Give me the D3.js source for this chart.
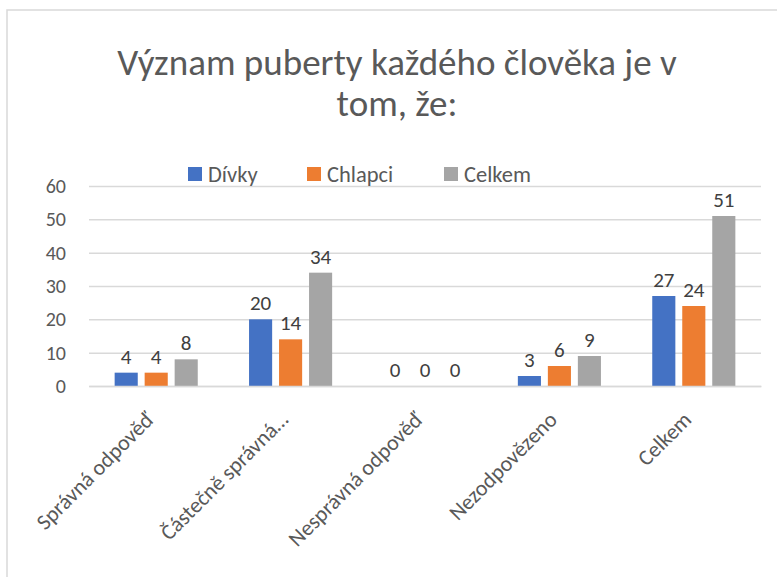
<!DOCTYPE html>
<html><head><meta charset="utf-8">
<script src="https://cdn.jsdelivr.net/npm/d3@7"></script>
<style>body{margin:0;background:#fff}svg{display:block}text{font-family:Carlito,Lato,"Liberation Sans",sans-serif}</style>
</head><body>
<svg id="c" width="777" height="577"></svg>
<script>
const categories = ["Správná odpověď", "Částečně správná…", "Nesprávná odpověď", "Nezodpovězeno", "Celkem"];
const seriesNames = ["Dívky", "Chlapci", "Celkem"];
const divky = [4, 20, 0, 3, 27];
const chlapci = [4, 14, 0, 6, 24];
const celkem = [8, 34, 0, 9, 51];
const yTicks = [0, 10, 20, 30, 40, 50, 60];
const titleLines = ["Význam puberty každého člověka je v", "tom, že:"];
const colors = ["#4472C4", "#ED7D31", "#A5A5A5"];

const series = [divky, chlapci, celkem];
const svg = d3.select("#c");
svg.append("rect").attr("x",7).attr("y",10).attr("width",800).attr("height",600)
  .attr("fill","none").attr("stroke","#d9d9d9").attr("stroke-width",1.5);

const L=89,R=761,T=186,B=386;
const x = d3.scaleBand().domain(categories).range([L,R]);
const xi = d3.scaleBand().domain(seriesNames).range([0,90]).paddingInner(0.23).paddingOuter(0.115);
const y = d3.scaleLinear().domain([0,60]).range([B,T]);

svg.append("g").selectAll("text").data(titleLines).join("text")
  .attr("x",397).attr("y",(d,i)=>75+i*41).attr("text-anchor","middle")
  .attr("font-size",37).attr("fill","#595959").text(d=>d);

const yAxis = d3.axisLeft(y).tickValues(yTicks).tickSize(-(R-L)).tickPadding(23);
const gy = svg.append("g").attr("transform",`translate(${L},0)`).call(yAxis);
gy.select(".domain").remove();
gy.selectAll(".tick line").attr("stroke","#d9d9d9").attr("stroke-width",1.5);
gy.selectAll(".tick text").attr("font-size",20).attr("fill","#595959").attr("font-family","Carlito,Lato,sans-serif");

const groups = svg.append("g").selectAll("g").data(categories).join("g")
  .attr("transform",c=>`translate(${x(c)+x.bandwidth()/2-45},0)`);
groups.each(function(c,ci){
  const g=d3.select(this);
  series.forEach((s,si)=>{
    g.append("rect").attr("x",xi(seriesNames[si])).attr("width",xi.bandwidth())
      .attr("y",y(s[ci])).attr("height",B-y(s[ci])).attr("fill",colors[si]);
    g.append("text").attr("x",xi(seriesNames[si])+xi.bandwidth()/2).attr("y",y(s[ci])-9)
      .attr("text-anchor","middle").attr("font-size",21).attr("fill","#404040").text(s[ci]);
  });
});

const xAxis = d3.axisBottom(x).tickSize(0).tickPadding(0);
const gx = svg.append("g").attr("transform",`translate(0,${B})`).call(xAxis);
gx.select(".domain").attr("stroke","#d9d9d9").attr("stroke-width",1.5);
gx.selectAll(".tick text").attr("font-size",22).attr("fill","#595959").attr("font-family","Carlito,Lato,sans-serif")
  .attr("text-anchor","end").attr("dy",null).attr("y",0)
  .attr("transform","translate(-1,35) rotate(-45)");

const leg = svg.append("g").selectAll("g").data(seriesNames).join("g")
  .attr("transform",(d,i)=>`translate(${[188,307,444][i]},167)`);
leg.append("rect").attr("width",14).attr("height",14).attr("fill",(d,i)=>colors[i]);
leg.append("text").attr("x",20).attr("y",14.5).attr("font-size",22.5).attr("fill","#595959").text(d=>d);
</script></body></html>
